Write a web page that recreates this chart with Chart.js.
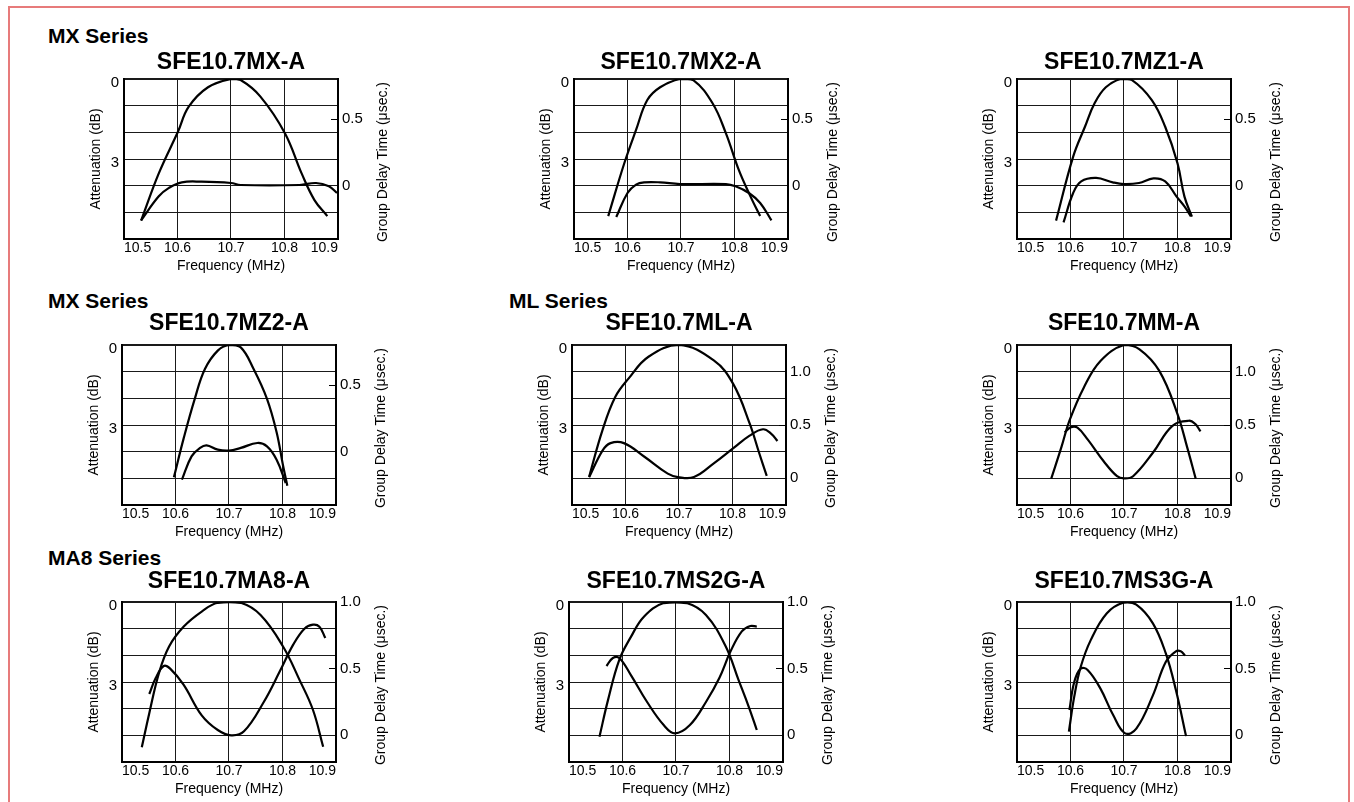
<!DOCTYPE html>
<html>
<head>
<meta charset="utf-8">
<title>SFE10.7 filter characteristics</title>
<script src="https://cdn.jsdelivr.net/npm/chart.js@4.4.0/dist/chart.umd.min.js"></script>
<style>
  body { margin: 0; background: #fff; width: 1354px; height: 802px; overflow: hidden; position: relative;
         font-family: "Liberation Sans", Arial, Helvetica, sans-serif; }
  .frame { position: absolute; left: 8px; top: 6px; width: 1338px; height: 830px; border: 2px solid #e77b7b; }
  .series { position: absolute; font-weight: bold; font-size: 21px; line-height: 24px; color: #000; }
  canvas { position: absolute; }
</style>
</head>
<body>
<div class="frame"></div>
<div class="series" style="left:48px; top:24px;">MX Series</div>
<div class="series" style="left:48px; top:289px;">MX Series</div>
<div class="series" style="left:509px; top:289px;">ML Series</div>
<div class="series" style="left:48px; top:546px;">MA8 Series</div>
<script>
// axis ticks
const freqTicks = [10.5, 10.6, 10.7, 10.8, 10.9];
const attTicks = [0, 1, 2, 3, 4, 5, 6];
const attLabels = [0, 3];
const gdtTicksLow = [0, 0.5];
const gdtTicksHigh = [0, 0.5, 1.0];

const xTitle = "Frequency (MHz)";
const attTitle = "Attenuation (dB)";
const gdtTitle = "Group Delay Time (\u03bcsec.)";

// SFE10.7MX-A
const mxAttFreq = [10.532, 10.565, 10.601, 10.621, 10.657, 10.700, 10.718, 10.755, 10.801, 10.832, 10.856, 10.880];
const mxAttDb   = [5.31, 3.54, 1.97, 1.04, 0.31, 0, 0.04, 0.66, 2.04, 3.54, 4.54, 5.14];
const mxGdtFreq = [10.532, 10.565, 10.584, 10.608, 10.645, 10.700, 10.718, 10.828, 10.859, 10.883, 10.898];
const mxGdtUs   = [-0.26, -0.08, -0.017, 0.025, 0.03, 0.02, 0.005, 0.005, 0.02, -0.005, -0.055];

// SFE10.7MX2-A
const mx2AttFreq = [10.564, 10.594, 10.616, 10.637, 10.661, 10.698, 10.723, 10.759, 10.784, 10.808, 10.830, 10.848];
const mx2AttDb   = [5.14, 3.16, 1.91, 0.79, 0.31, 0, 0.04, 0.91, 2.04, 3.41, 4.41, 5.14];
const mx2GdtFreq = [10.579, 10.600, 10.616, 10.631, 10.661, 10.698, 10.784, 10.802, 10.827, 10.848, 10.869];
const mx2GdtUs   = [-0.235, -0.055, 0.008, 0.025, 0.025, 0.012, 0.012, -0.005, -0.055, -0.13, -0.26];

// SFE10.7MZ1-A
const mz1AttFreq = [10.573, 10.605, 10.627, 10.645, 10.666, 10.694, 10.715, 10.752, 10.777, 10.800, 10.813, 10.827];
const mz1AttDb   = [5.31, 2.91, 1.79, 0.91, 0.31, 0, 0.04, 0.79, 1.79, 3.16, 4.41, 5.16];
const mz1GdtFreq = [10.587, 10.605, 10.620, 10.648, 10.679, 10.700, 10.728, 10.755, 10.777, 10.798, 10.813, 10.825];
const mz1GdtUs   = [-0.275, -0.055, 0.032, 0.058, 0.025, 0.012, 0.02, 0.055, 0.032, -0.08, -0.155, -0.23];

// SFE10.7MZ2-A
const mz2AttFreq = [10.597, 10.615, 10.636, 10.655, 10.679, 10.700, 10.722, 10.746, 10.771, 10.789, 10.801, 10.809];
const mz2AttDb   = [4.96, 3.52, 2.02, 0.90, 0.21, 0, 0.09, 0.90, 2.02, 3.27, 4.52, 5.28];
const mz2GdtFreq = [10.612, 10.630, 10.646, 10.658, 10.679, 10.700, 10.722, 10.753, 10.771, 10.789, 10.806];
const mz2GdtUs   = [-0.21, -0.035, 0.028, 0.047, 0.015, 0.008, 0.028, 0.065, 0.04, -0.06, -0.235];

// SFE10.7ML-A
const mlAttFreq = [10.532, 10.557, 10.581, 10.606, 10.643, 10.700, 10.765, 10.801, 10.832, 10.850, 10.864];
const mlAttDb   = [4.94, 3.19, 1.94, 1.25, 0.44, 0, 0.58, 1.45, 2.94, 4.06, 4.91];
const mlGdtFreq = [10.532, 10.557, 10.572, 10.597, 10.636, 10.679, 10.698, 10.728, 10.765, 10.801, 10.832, 10.857, 10.872, 10.884];
const mlGdtUs   = [0.01, 0.26, 0.33, 0.33, 0.20, 0.044, 0.012, 0.012, 0.14, 0.28, 0.40, 0.46, 0.42, 0.35];

// SFE10.7MM-A
const mmAttFreq = [10.564, 10.583, 10.598, 10.625, 10.656, 10.700, 10.729, 10.766, 10.800, 10.818, 10.834];
const mmAttDb   = [5.01, 3.83, 2.84, 1.59, 0.60, 0, 0.16, 0.97, 2.59, 3.83, 5.01];
const mmGdtFreq = [10.589, 10.601, 10.613, 10.632, 10.662, 10.687, 10.700, 10.717, 10.754, 10.790, 10.821, 10.833, 10.843];
const mmGdtUs   = [0.43, 0.48, 0.475, 0.365, 0.16, 0.02, 0, 0.02, 0.24, 0.49, 0.54, 0.51, 0.44];

// SFE10.7MA8-A
const ma8AttFreq = [10.537, 10.551, 10.569, 10.588, 10.615, 10.649, 10.679, 10.722, 10.759, 10.801, 10.832, 10.857, 10.876];
const ma8AttDb   = [5.45, 4.17, 2.67, 1.67, 0.93, 0.36, 0.03, 0.03, 0.49, 1.67, 2.93, 4.05, 5.43];
const ma8GdtFreq = [10.551, 10.563, 10.578, 10.590, 10.615, 10.649, 10.679, 10.704, 10.728, 10.765, 10.795, 10.820, 10.841, 10.857, 10.869, 10.880];
const ma8GdtUs   = [0.31, 0.43, 0.52, 0.50, 0.38, 0.15, 0.04, 0, 0.03, 0.25, 0.48, 0.68, 0.80, 0.83, 0.815, 0.73];

// SFE10.7MS2G-A
const ms2gAttFreq = [10.557, 10.573, 10.594, 10.616, 10.640, 10.677, 10.720, 10.756, 10.793, 10.817, 10.836, 10.851];
const ms2gAttDb   = [5.05, 3.67, 2.17, 1.30, 0.55, 0.04, 0.04, 0.49, 1.67, 2.93, 3.93, 4.80];
const ms2gGdtFreq = [10.570, 10.582, 10.594, 10.616, 10.646, 10.677, 10.698, 10.726, 10.756, 10.781, 10.802, 10.823, 10.839, 10.851];
const ms2gGdtUs   = [0.52, 0.58, 0.58, 0.45, 0.25, 0.077, 0.015, 0.077, 0.25, 0.43, 0.63, 0.78, 0.82, 0.815];

// SFE10.7MS3G-A
const ms3gAttFreq = [10.597, 10.607, 10.619, 10.638, 10.668, 10.700, 10.723, 10.754, 10.778, 10.797, 10.816];
const ms3gAttDb   = [4.86, 3.55, 2.44, 1.42, 0.42, 0.02, 0.10, 0.80, 1.92, 3.30, 5.03];
const ms3gGdtFreq = [10.598, 10.607, 10.619, 10.632, 10.656, 10.680, 10.702, 10.723, 10.754, 10.778, 10.797, 10.806, 10.814];
const ms3gGdtUs   = [0.19, 0.40, 0.50, 0.49, 0.35, 0.15, 0.015, 0.05, 0.30, 0.55, 0.63, 0.63, 0.60];

// one entry per panel: where its plot box sits and how its right axis runs
const panels = [
  { title: "SFE10.7MX-A",   attF: mxAttFreq,   att: mxAttDb,   gdtF: mxGdtFreq,   gdt: mxGdtUs,   gdtMin: -0.4,  gdtMax: 0.8,  gdtTicks: gdtTicksLow,  left: 124,  top: 79,  titlePad: 2 },
  { title: "SFE10.7MX2-A",  attF: mx2AttFreq,  att: mx2AttDb,  gdtF: mx2GdtFreq,  gdt: mx2GdtUs,  gdtMin: -0.4,  gdtMax: 0.8,  gdtTicks: gdtTicksLow,  left: 574,  top: 79,  titlePad: 2 },
  { title: "SFE10.7MZ1-A",  attF: mz1AttFreq,  att: mz1AttDb,  gdtF: mz1GdtFreq,  gdt: mz1GdtUs,  gdtMin: -0.4,  gdtMax: 0.8,  gdtTicks: gdtTicksLow,  left: 1017, top: 79,  titlePad: 2 },
  { title: "SFE10.7MZ2-A",  attF: mz2AttFreq,  att: mz2AttDb,  gdtF: mz2GdtFreq,  gdt: mz2GdtUs,  gdtMin: -0.4,  gdtMax: 0.8,  gdtTicks: gdtTicksLow,  left: 122,  top: 345, titlePad: 7 },
  { title: "SFE10.7ML-A",   attF: mlAttFreq,   att: mlAttDb,   gdtF: mlGdtFreq,   gdt: mlGdtUs,   gdtMin: -0.25, gdtMax: 1.25, gdtTicks: gdtTicksHigh, left: 572,  top: 345, titlePad: 7 },
  { title: "SFE10.7MM-A",   attF: mmAttFreq,   att: mmAttDb,   gdtF: mmGdtFreq,   gdt: mmGdtUs,   gdtMin: -0.25, gdtMax: 1.25, gdtTicks: gdtTicksHigh, left: 1017, top: 345, titlePad: 7 },
  { title: "SFE10.7MA8-A",  attF: ma8AttFreq,  att: ma8AttDb,  gdtF: ma8GdtFreq,  gdt: ma8GdtUs,  gdtMin: -0.2,  gdtMax: 1.0,  gdtTicks: gdtTicksHigh, left: 122,  top: 602, titlePad: 6 },
  { title: "SFE10.7MS2G-A", attF: ms2gAttFreq, att: ms2gAttDb, gdtF: ms2gGdtFreq, gdt: ms2gGdtUs, gdtMin: -0.2,  gdtMax: 1.0,  gdtTicks: gdtTicksHigh, left: 569,  top: 602, titlePad: 6 },
  { title: "SFE10.7MS3G-A", attF: ms3gAttFreq, att: ms3gAttDb, gdtF: ms3gGdtFreq, gdt: ms3gGdtUs, gdtMin: -0.2,  gdtMax: 1.0,  gdtTicks: gdtTicksHigh, left: 1017, top: 602, titlePad: 6 }
];

const FONT = '"Liberation Sans", Arial, Helvetica, sans-serif';
Chart.defaults.font.family = FONT;
Chart.defaults.font.size = 14;
Chart.defaults.color = "#000";

const PLOT_W = 214, PLOT_H = 160;
const LEFT_W = 46, RIGHT_W = 58, BOTTOM_H = 40;

// right axis title reads bottom-to-top, so draw it ourselves
const rightTitle = {
  id: "rightTitle",
  afterDraw(chart) {
    const a = chart.chartArea;
    const ctx = chart.ctx;
    ctx.save();
    ctx.translate(a.right + 45, (a.top + a.bottom) / 2 + 3);
    ctx.rotate(-Math.PI / 2);
    ctx.font = "14px " + FONT;
    ctx.fillStyle = "#000";
    ctx.textAlign = "center";
    ctx.textBaseline = "middle";
    ctx.fillText(gdtTitle, 0, 0);
    ctx.restore();
  }
};

function toPoints(xs, ys) {
  return xs.map((x, i) => ({ x: x, y: ys[i] }));
}

function curve(points, axis) {
  return {
    data: points,
    yAxisID: axis,
    borderColor: "#000",
    borderWidth: 2.2,
    pointRadius: 0,
    fill: false,
    tension: 0.4
  };
}

function drawPanel(p) {
  const titleBlock = 2 + 28 + p.titlePad;
  const canvas = document.createElement("canvas");
  canvas.width = LEFT_W + PLOT_W + RIGHT_W;
  canvas.height = titleBlock + PLOT_H + BOTTOM_H;
  canvas.style.left = (p.left - LEFT_W) + "px";
  canvas.style.top = (p.top - titleBlock) + "px";
  document.body.appendChild(canvas);

  new Chart(canvas, {
    type: "line",
    data: {
      datasets: [
        curve(toPoints(p.attF, p.att), "yAtt"),
        curve(toPoints(p.gdtF, p.gdt), "yGdt")
      ]
    },
    options: {
      responsive: false,
      animation: false,
      devicePixelRatio: 1,
      layout: { padding: 0 },
      plugins: {
        legend: { display: false },
        tooltip: { enabled: false },
        title: {
          display: true,
          text: p.title,
          fullSize: false,
          color: "#000",
          font: { size: 23, weight: "bold", lineHeight: "28px" },
          padding: { top: 2, bottom: p.titlePad }
        }
      },
      scales: {
        x: {
          type: "linear",
          min: 10.5,
          max: 10.9,
          afterBuildTicks: s => { s.ticks = freqTicks.map(v => ({ value: v })); },
          afterFit: s => { s.height = BOTTOM_H; },
          ticks: { align: "inner", padding: 1, autoSkip: false, maxRotation: 0, callback: v => v.toFixed(1) },
          grid: { color: "#1a1a1a", lineWidth: 1, drawTicks: false },
          border: { color: "#000", width: 2 },
          title: { display: true, text: xTitle, padding: { top: 0, bottom: 4 } }
        },
        yAtt: {
          position: "left",
          reverse: true,
          min: 0,
          max: 6,
          afterBuildTicks: s => { s.ticks = attTicks.map(v => ({ value: v })); },
          afterFit: s => { s.width = LEFT_W; },
          ticks: { padding: 5, labelOffset: 4, font: { size: 15 }, callback: v => (attLabels.includes(v) ? String(v) : "") },
          grid: { color: "#1a1a1a", lineWidth: ctx => (ctx.tick && ctx.tick.value === 0 ? 2 : 1), drawTicks: false },
          border: { color: "#000", width: 2 },
          title: { display: true, text: attTitle, padding: { top: 10, bottom: 0 } }
        },
        yGdt: {
          position: "right",
          min: p.gdtMin,
          max: p.gdtMax,
          afterBuildTicks: s => { s.ticks = p.gdtTicks.map(v => ({ value: v })); },
          afterFit: s => { s.width = RIGHT_W; },
          ticks: { padding: 11, font: { size: 15 }, callback: v => (v === 0 ? "0" : v.toFixed(1)) },
          grid: {
            drawOnChartArea: false,
            drawTicks: true,
            tickLength: -7,
            tickWidth: 1,
            tickColor: ctx => (ctx.tick && ctx.tick.value === 0.5 ? "#000" : "rgba(0,0,0,0)")
          },
          border: { color: "#000", width: 2 }
        }
      }
    },
    plugins: [rightTitle]
  });
}

panels.forEach(drawPanel);
</script>
</body>
</html>
